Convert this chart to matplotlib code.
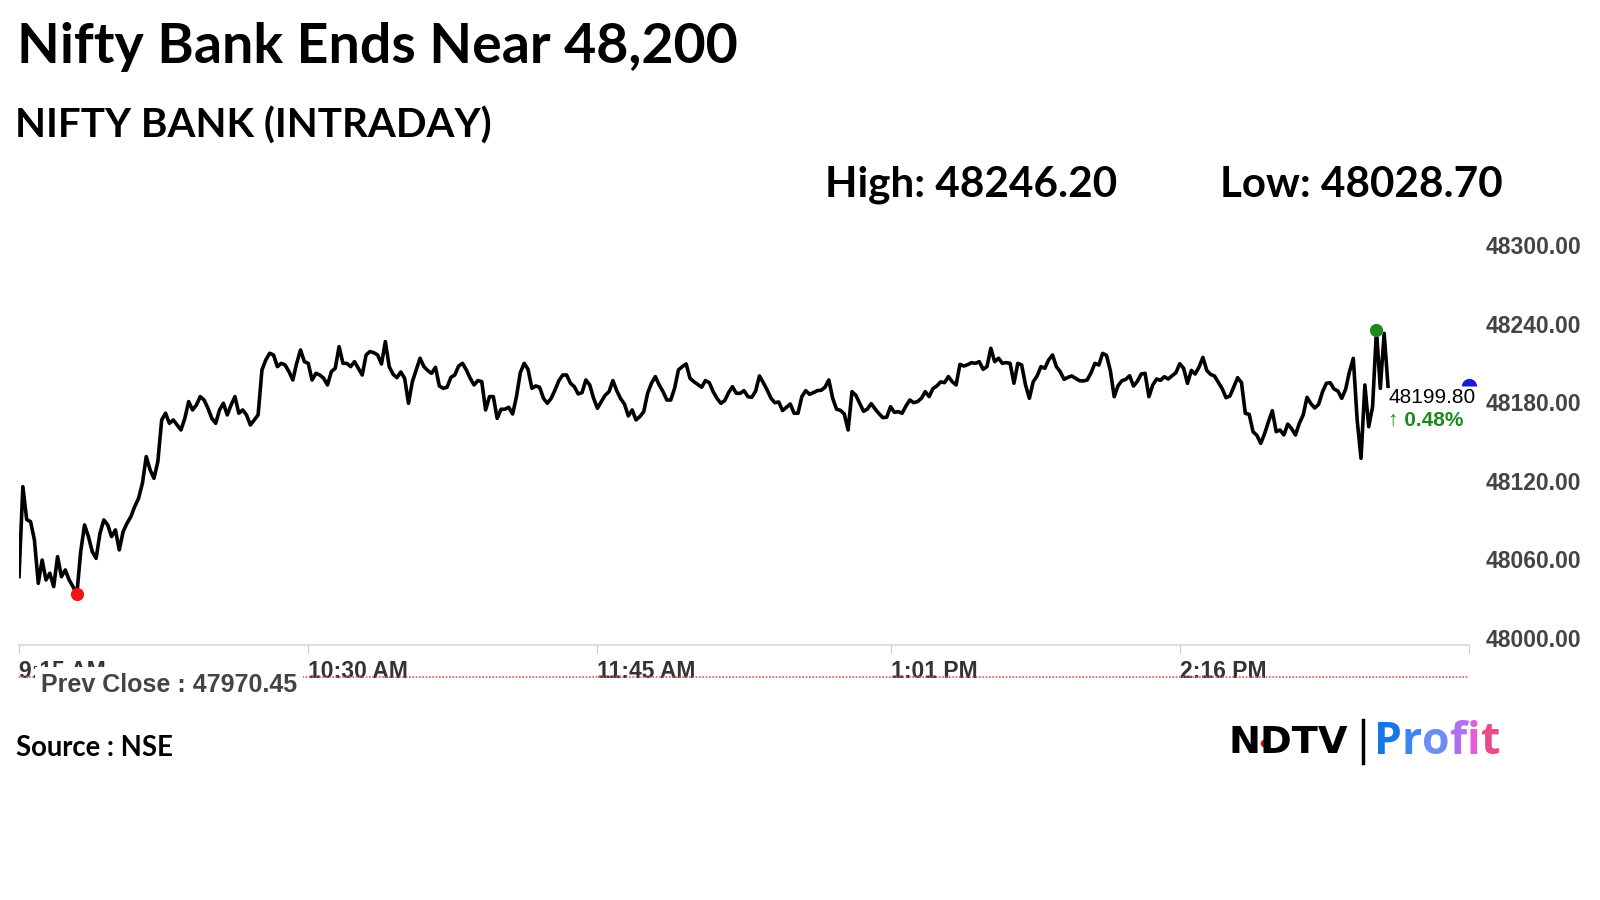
import matplotlib
matplotlib.use('Agg')
import matplotlib.pyplot as plt
import pandas as pd

# 1分足の終値 (9:15 から)
prices = [
    48043.0, 48117.1, 48090.0, 48088.3, 48073.2, 48037.5, 48056.7, 48040.3, 48045.8, 48034.8,
    48059.5, 48043.0, 48048.5, 48040.3, 48034.8, 48028.7, 48063.6, 48085.6, 48076.0, 48063.6,
    48058.1, 48078.7, 48089.7, 48085.6, 48076.0, 48081.5, 48065.0, 48080.1, 48086.9, 48092.4,
    48100.7, 48107.5, 48119.9, 48141.9, 48130.9, 48124.0, 48137.7, 48172.1, 48177.6, 48169.3,
    48172.1, 48167.9, 48163.8, 48173.4, 48187.2, 48180.3, 48184.4, 48191.3, 48188.5, 48181.7,
    48173.4, 48169.3, 48180.3, 48185.8, 48176.2, 48184.4, 48191.3, 48177.6, 48180.3, 48176.2,
    48167.9, 48172.1, 48176.2, 48213.3, 48221.5, 48227.0, 48225.6, 48216.0, 48218.7, 48217.4,
    48211.9, 48205.0, 48218.7, 48229.7, 48220.1, 48218.7, 48205.0, 48210.5, 48209.1, 48206.4,
    48200.9, 48211.9, 48214.6, 48232.5, 48218.7, 48218.7, 48216.0, 48220.1, 48214.6, 48209.1,
    48225.6, 48228.4, 48227.5, 48225.6, 48218.2, 48236.6, 48216.0, 48209.7, 48206.9, 48211.6,
    48206.4, 48185.8, 48203.6, 48213.3, 48222.9, 48216.0, 48212.7, 48210.5, 48215.4, 48200.1,
    48198.1, 48199.0, 48207.2, 48209.1, 48216.5, 48218.7, 48213.3, 48206.4, 48200.9, 48204.5,
    48203.6, 48180.3, 48191.3, 48191.3, 48173.4, 48180.9, 48180.9, 48182.5, 48177.0, 48191.3,
    48211.1, 48218.7, 48213.8, 48198.1, 48200.1, 48199.0, 48189.9, 48185.8, 48189.9, 48196.8,
    48204.5, 48209.1, 48209.1, 48202.3, 48199.5, 48193.5, 48194.6, 48205.0, 48200.9, 48189.9,
    48181.7, 48187.2, 48192.4, 48195.4, 48204.5, 48196.2, 48189.6, 48185.2, 48175.4, 48180.3,
    48172.1, 48174.8, 48178.9, 48194.0, 48202.3, 48207.8, 48200.9, 48195.4, 48188.5, 48188.5,
    48198.1, 48213.3, 48216.0, 48218.2, 48206.4, 48203.6, 48201.4, 48199.0, 48204.5, 48202.8,
    48195.4, 48189.9, 48185.8, 48188.0, 48194.6, 48199.5, 48194.0, 48194.0, 48196.2, 48191.3,
    48190.7, 48195.7, 48208.3, 48202.8, 48196.8, 48189.9, 48186.3, 48186.9, 48179.8, 48182.5,
    48185.2, 48177.6, 48177.6, 48191.3, 48196.2, 48193.2, 48194.6, 48196.2, 48196.5, 48199.0,
    48205.0, 48189.9, 48180.9, 48180.0, 48177.0, 48163.8, 48195.4, 48192.4, 48185.8, 48179.2,
    48181.1, 48185.5, 48181.1, 48177.3, 48174.0, 48174.3, 48183.0, 48178.4, 48178.9, 48177.6,
    48183.6, 48188.5, 48186.3, 48187.2, 48189.9, 48195.4, 48191.3, 48197.9, 48200.1, 48203.4,
    48202.8, 48207.8, 48203.6, 48200.9, 48217.9, 48216.5, 48217.6, 48219.3, 48218.7, 48220.1,
    48213.8, 48216.0, 48231.1, 48220.1, 48222.9, 48218.7, 48219.3, 48218.7, 48202.3, 48218.7,
    48217.4, 48200.9, 48189.9, 48203.6, 48208.3, 48216.0, 48214.6, 48221.5, 48225.6,
    48216.0, 48211.8, 48205.5, 48207.2, 48208.3, 48206.3, 48204.4, 48204.2, 48205.0, 48211.0,
    48218.7, 48217.3, 48226.9, 48225.3, 48212.7, 48191.2, 48200.3, 48204.4, 48205.5, 48208.5,
    48200.0, 48203.9, 48209.9, 48210.5, 48191.2, 48200.9, 48205.8, 48204.7, 48207.7, 48205.8,
    48208.5, 48211.0, 48218.4, 48214.6, 48202.2, 48212.9, 48209.9, 48215.7, 48223.6, 48212.9,
    48209.6, 48208.3, 48203.1, 48197.8, 48190.4, 48191.8, 48199.2, 48206.9, 48202.8, 48177.5,
    48176.7, 48162.4, 48159.4, 48152.8, 48160.8, 48170.7, 48179.7, 48162.4, 48163.8, 48159.7,
    48168.7, 48164.9, 48159.7, 48169.3, 48176.1, 48190.7, 48185.5, 48181.9, 48184.9, 48195.1,
    48202.2, 48202.8, 48197.6, 48195.9, 48189.9, 48197.3, 48211.8, 48222.8, 48172.0, 48140.5,
    48200.9, 48166.5, 48183.0, 48246.2, 48198.1, 48243.4, 48199.8,
]
prev_close = 47970.45
tick_times = ["09:15", "10:30", "11:45", "13:01", "14:16", "15:31"]
tick_labels = ["9:15 AM", "10:30 AM", "11:45 AM", "1:01 PM", "2:16 PM", ""]
y_ticks = [48000, 48060, 48120, 48180, 48240, 48300]

times = pd.date_range("09:15", periods=len(prices), freq="min")
s = pd.Series(prices, index=times)
ticks = pd.to_datetime(tick_times)
last = s.iloc[-1]
chg = (last - prev_close) / prev_close * 100

plt.rcParams['font.family'] = ['Liberation Sans', 'DejaVu Sans']

fig = plt.figure(figsize=(16, 9), dpi=100)
ax = fig.add_axes([19 / 1600, 255 / 900, 1450 / 1600, 405 / 900])
ax.plot(s.index, s.values, color='black', lw=2.6, solid_joinstyle='round')
ax.plot(s.idxmin(), s.min(), 'o', color='#f01414', ms=8.5, zorder=5)
ax.plot(s.idxmax(), s.max(), 'o', color='#1b8c1b', ms=8.5, zorder=5)
ax.plot(ticks[-1], last, marker='o', ms=11, fillstyle='top', markerfacecolor='#1a1ad8',
        markerfacecoloralt='none', markeredgewidth=0, clip_on=False, zorder=5)
ax.set_xlim(ticks[0], ticks[-1])
ax.set_ylim(47986.7, 48320.3)
for k in ['top', 'left', 'right']:
    ax.spines[k].set_visible(False)
ax.spines['bottom'].set_color('#dddddd')
ax.spines['bottom'].set_linewidth(1.5)
ax.set_yticks([])
ax.set_xticks(ticks)
ax.set_xticklabels(tick_labels, ha='left', fontsize=16.5, fontweight='bold', color='#333333')
ax.tick_params(axis='x', length=6, color='#cccccc', pad=5)

ax.annotate(f"{last:.2f}", xy=(s.index[-1], last), xytext=(0, -8), textcoords='offset points',
            ha='left', va='center', fontsize=15, color='black')
ax.annotate(f"\u2191 {chg:.2f}%", xy=(s.index[-1], last), xytext=(0, -24.5), textcoords='offset points',
            ha='left', va='center', fontsize=15, color='#1b8c1b', fontweight='bold')

# 右側の目盛り
ax2 = ax.twinx()
ax2.set_ylim(47994.7, 48303.8)
ax2.set_yticks(y_ticks)
ax2.set_yticklabels([f"{v:.2f}" for v in y_ticks], fontsize=16.5, fontweight='bold', color='#444444')
ax2.tick_params(axis='y', length=0, pad=12)
for k in ax2.spines:
    ax2.spines[k].set_visible(False)
ax2.axhline(prev_close, color='#e05555', lw=1.2, ls=(0, (1, 1)), clip_on=False)

# 文字・ロゴ (ピクセル座標)
ov = fig.add_axes([0, 0, 1, 1])
ov.set_xlim(0, 1600)
ov.set_ylim(900, 0)
ov.axis('off')
ov.text(41, 685, f"Prev Close : {prev_close:.2f}", fontsize=18, fontweight='bold', color='#444444',
        va='center', bbox=dict(boxstyle='square,pad=0.25', fc='white', ec='none'))
ov.text(17, 47, "Nifty Bank Ends Near 48,200", fontsize=40, fontweight='bold', family='Lato', va='center')
ov.text(15, 126, "NIFTY BANK (INTRADAY)", fontsize=29, fontweight='bold', family='Lato', va='center')
ov.text(825, 185, f"High: {s.max():.2f}", fontsize=30.4, fontweight='bold', family='Lato', va='center')
ov.text(1220, 185, f"Low: {s.min():.2f}", fontsize=30.4, fontweight='bold', family='Lato', va='center')
ov.text(16, 748, "Source : NSE", fontsize=19.8, fontweight='bold', family='Lato', va='center')

ov.text(1229, 743, "NDTV", fontsize=27.5, fontweight='heavy', family='DejaVu Sans', va='center')
ov.plot(1264, 743, 'o', color='#e01010', ms=4.5)
ov.plot([1363, 1363], [720, 763], color='black', lw=2.5)
profit_colors = ['#1577e6', '#3d86ee', '#6c8df4', '#b070f0', '#e25fd8', '#e84a8a']
prev = ov.text(1374, 743, "P", fontsize=32, fontweight='bold', family='Open Sans', va='center',
               color=profit_colors[0])
for ch, c in zip("rofit", profit_colors[1:]):
    prev = ov.annotate(ch, xy=(1, 0), xycoords=prev, ha='left', va='bottom', fontsize=32,
                       fontweight='bold', family='Open Sans', color=c)

fig.savefig("out.png", dpi=100, facecolor='white')
plt.close(fig)
